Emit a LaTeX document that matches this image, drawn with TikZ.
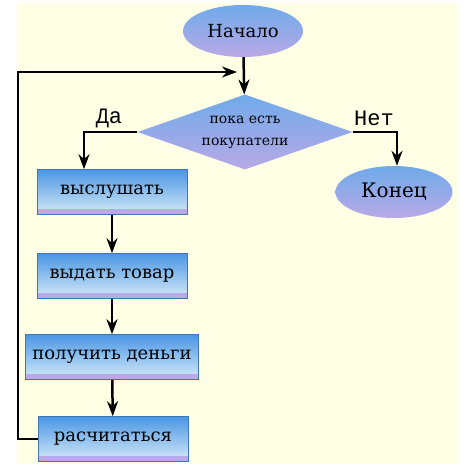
\documentclass[tikz,border=0pt]{standalone}
\usepackage{fontspec}
\setmainfont{DejaVu Serif}
\newfontfamily\labfont{Liberation Mono}
\usetikzlibrary{shapes.geometric,arrows.meta}

\definecolor{cream}{HTML}{FFFFE6}
\definecolor{boxtop}{HTML}{4A96E4}
\definecolor{boxlow}{HTML}{D6EBF8}
\definecolor{lav}{HTML}{B9A9E6}
\definecolor{ovaltop}{HTML}{6FAAEA}
\definecolor{ovalmid}{HTML}{D2E8F8}

\tikzset{
	stepbox/.style={rectangle,draw=boxtop!80!black,line width=0.6pt,top color=boxtop,bottom color=boxlow,
		minimum width=150pt,minimum height=45pt,inner sep=2pt,font=\fontsize{18}{20}\selectfont,
		path picture={\fill[lav] (path picture bounding box.south west) rectangle ([yshift=6pt]path picture bounding box.south east);}},
	oval/.style={ellipse,top color=ovaltop,middle color=ovalmid,bottom color=lav,
		minimum width=120pt,minimum height=52pt,inner sep=0pt,font=\fontsize{18}{20}\selectfont},
	cond/.style={diamond,aspect=2.87,top color=ovaltop,middle color=ovalmid,bottom color=lav,
		minimum width=215pt,minimum height=75pt,inner sep=0pt,align=center,font=\fontsize{14}{22}\selectfont},
	flow/.style={line width=2.5pt,-{Stealth[length=15pt,width=11pt]}},
	branch/.style={font=\labfont\fontsize{22}{22}\selectfont}
}

\begin{document}
\begin{tikzpicture}[x=1pt,y=-1pt]
	
	\useasboundingbox (0,0) rectangle (465,464);
	\fill[cream] (17,3) rectangle (457,464);
	
	\node[oval] (start) at (243, 31)  {Начало};
	\node[cond] (loop) at (245, 132) {пока есть\\покупатели};
	\node[oval,minimum width=117pt,font=\fontsize{20}{22}\selectfont] (stop) at (394, 192) {Конец};
	\node[stepbox] (listen) at (112, 192) {выслушать};
	\node[stepbox] (give) at (112, 276) {выдать товар};
	\node[stepbox,minimum width=173pt] (take) at (112, 357) {получить деньги};
	\node[stepbox] (pay) at (113, 439) {расчитаться};
	\node[branch] (yes) at (109, 118) {Да};
	\node[branch] (no) at (374, 118) {Нет};
	\coordinate (corner) at (18, 72);
	\coordinate (back) at (237, 72);
	
	\draw[flow] (start) -- (loop);
	\draw[flow] (loop.west) -| ([xshift=-28pt]listen.north);
	\draw[flow] (loop.east) -| ([xshift=3pt]stop.north);
	\draw[flow] (listen) -- (give);
	\draw[flow] (give) -- (take);
	\draw[flow] (take) -- (pay);
	\draw[flow] (pay.west) -| (corner) -- (back);
	
\end{tikzpicture}
\end{document}
